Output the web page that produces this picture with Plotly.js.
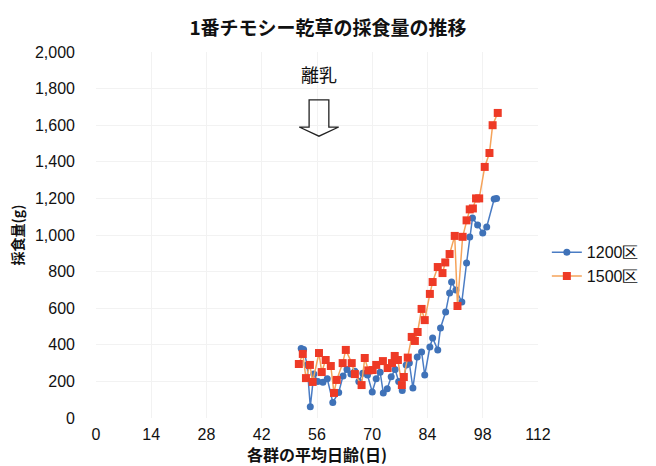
<!DOCTYPE html>
<html><head><meta charset="utf-8">
<script src="https://cdn.plot.ly/plotly-3.0.1.min.js"></script>
<style>html,body{margin:0;padding:0;background:#fff}#c{width:656px;height:466px}</style>
</head><body><div id="c"></div>
<script>
const blueName = '1200区';
const redName = '1500区';
const blueDays = [52.0,52.6,53.5,54.3,55.2,56.2,57.5,58.6,60.0,61.5,62.6,63.6,64.6,65.6,66.6,67.6,68.8,70.0,71.0,72.0,72.8,73.8,74.8,75.8,76.7,77.6,78.6,79.4,80.3,81.4,82.5,83.3,84.6,85.3,86.6,87.3,88.6,89.6,90.1,91.2,92.7,93.9,94.7,95.4,96.7,98.0,99.0,100.9,101.5];
const blueVals = [380,375,290,62,240,200,195,215,85,140,230,265,240,255,200,245,235,142,215,250,137,160,225,265,200,150,290,300,164,333,361,235,388,437,372,492,579,683,743,700,634,847,989,1093,1055,1011,1044,1197,1200];
const redDays = [51.4,52.4,53.2,54.2,54.9,56.5,57.2,58.2,59.5,60.3,61.0,62.5,63.3,64.8,65.6,67.3,68.1,69.0,70.1,71.0,72.7,73.9,75.0,75.7,76.5,77.5,78.0,79.0,80.0,80.8,81.5,82.5,83.3,84.6,85.3,86.6,87.8,88.5,89.6,90.9,91.6,92.9,93.9,94.7,95.5,96.3,97.1,98.5,99.7,100.5,101.8];
const redVals = [295,350,218,290,197,355,251,317,284,137,208,300,372,300,240,180,328,260,262,290,311,273,300,339,317,180,224,330,443,421,470,596,535,678,743,825,792,850,896,995,612,990,1080,1140,1145,1200,1200,1372,1448,1600,1667];
const xTicks = [0,14,28,42,56,70,84,98,112];
const yTicks = [0,200,400,600,800,1000,1200,1400,1600,1800,2000];
const weaningDay = 56.5;
const titleText = '1番チモシー乾草の採食量の推移';
const xTitle = '各群の平均日齢(日)';
const yTitle = '採食量(g)';
const noteText = '離乳';

const numFont = 'Liberation Sans Narrow, Arial Narrow, Liberation Sans, Arial, sans-serif';
const jpFont = 'Noto Sans CJK JP, sans-serif';

const traces = [
  {x: blueDays, y: blueVals, name: blueName, mode: 'lines+markers', type: 'scatter',
   line: {color: '#4a7cc4', width: 1.5},
   marker: {symbol: 'circle', size: 7, color: '#3f72b8'}},
  {x: redDays, y: redVals, name: redName, mode: 'lines+markers', type: 'scatter',
   line: {color: '#f5a35a', width: 1.5},
   marker: {symbol: 'square', size: 8, color: '#ee3a26'}}
];

const ax0 = weaningDay - 2.5, ax1 = weaningDay + 2.5, ah0 = weaningDay - 5, ah1 = weaningDay + 5;
const arrowPath = `M ${ax0} 1738 L ${ax1} 1738 L ${ax1} 1590 L ${ah1} 1590 L ${weaningDay} 1540 L ${ah0} 1590 L ${ax0} 1590 Z`;

const layout = {
  width: 656, height: 466,
  margin: {l: 96, r: 118, t: 52, b: 48},
  paper_bgcolor: '#fff', plot_bgcolor: '#fff',
  title: {text: '<b>' + titleText + '</b>', x: 0.5, xanchor: 'center', y: 0.94, yanchor: 'middle',
          font: {family: jpFont, size: 19, color: '#111'}},
  xaxis: {range: [0, 112], tickvals: xTicks, ticktext: xTicks.map(String),
          showgrid: true, gridcolor: '#f2f2f2', zeroline: false, showline: false,
          ticks: '', ticklabelstandoff: 5,
          tickfont: {family: numFont, size: 16, color: '#111'},
          title: {text: '<b>' + xTitle + '</b>', font: {family: jpFont, size: 16, color: '#111'}, standoff: 11}},
  yaxis: {range: [0, 2000], tickvals: yTicks, tickformat: ',d',
          showgrid: true, gridcolor: '#f2f2f2', zeroline: false, showline: false,
          ticks: '', ticklabelstandoff: 20,
          tickfont: {family: numFont, size: 16, color: '#111'},
          title: {text: '<b>' + yTitle + '</b>', font: {family: jpFont, size: 14, color: '#111'}, standoff: 8}},
  legend: {x: 1.02, xanchor: 'left', y: 0.42, yanchor: 'middle', bgcolor: 'rgba(0,0,0,0)',
           font: {family: 'Liberation Sans, Arial, sans-serif', size: 16, color: '#111'}, tracegroupgap: 0},
  annotations: [{x: weaningDay, y: 1880, xref: 'x', yref: 'y', text: noteText, showarrow: false,
                 font: {family: jpFont, size: 18, color: '#111'}}],
  shapes: [{type: 'path', path: arrowPath, xref: 'x', yref: 'y', line: {color: '#222', width: 1.3}, fillcolor: 'rgba(0,0,0,0)'}]
};
Plotly.newPlot('c', traces, layout, {displayModeBar: false, staticPlot: true});
</script>
</body></html>
